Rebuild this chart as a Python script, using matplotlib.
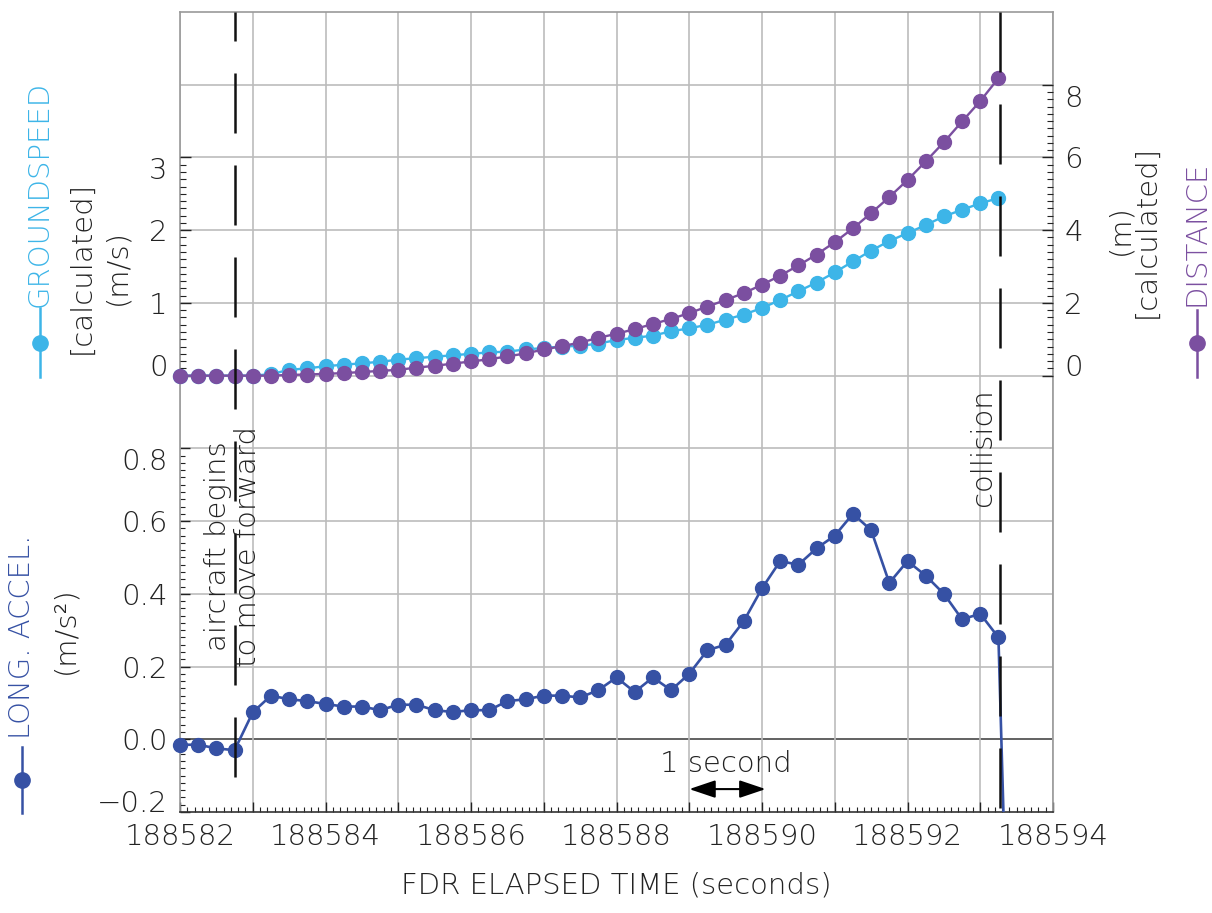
import matplotlib
matplotlib.use('Agg')
import matplotlib.pyplot as plt
import numpy as np
from matplotlib.ticker import FixedLocator, FuncFormatter
from matplotlib.lines import Line2D

# ---------------- data ----------------
time = [188582.00, 188582.25, 188582.50, 188582.75,
        188583.00, 188583.25, 188583.50, 188583.75,
        188584.00, 188584.25, 188584.50, 188584.75,
        188585.00, 188585.25, 188585.50, 188585.75,
        188586.00, 188586.25, 188586.50, 188586.75,
        188587.00, 188587.25, 188587.50, 188587.75,
        188588.00, 188588.25, 188588.50, 188588.75,
        188589.00, 188589.25, 188589.50, 188589.75,
        188590.00, 188590.25, 188590.50, 188590.75,
        188591.00, 188591.25, 188591.50, 188591.75,
        188592.00, 188592.25, 188592.50, 188592.75,
        188593.00, 188593.25]

groundspeed = [0.0, 0.0, 0.0, 0.0,
               0.0, 0.02, 0.08, 0.10,
               0.13, 0.15, 0.17, 0.19,
               0.22, 0.24, 0.26, 0.28,
               0.30, 0.32, 0.33, 0.36,
               0.38, 0.40, 0.41, 0.44,
               0.49, 0.52, 0.55, 0.61,
               0.65, 0.70, 0.77, 0.84,
               0.93, 1.04, 1.16, 1.28,
               1.42, 1.57, 1.72, 1.85,
               1.96, 2.07, 2.19, 2.28,
               2.37, 2.44]

distance = [0.0, 0.0, 0.0, 0.0,
            0.0, 0.0, 0.02, 0.03,
            0.05, 0.07, 0.10, 0.13,
            0.16, 0.22, 0.27, 0.33,
            0.39, 0.45, 0.53, 0.61,
            0.72, 0.81, 0.91, 1.04,
            1.15, 1.28, 1.42, 1.56,
            1.72, 1.90, 2.08, 2.27,
            2.50, 2.75, 3.03, 3.33,
            3.67, 4.05, 4.47, 4.91,
            5.38, 5.89, 6.42, 6.99,
            7.55, 8.18]

accel = [-0.015, -0.015, -0.025, -0.03,
         0.074, 0.12, 0.11, 0.105,
         0.097, 0.09, 0.09, 0.08,
         0.095, 0.095, 0.08, 0.075,
         0.08, 0.08, 0.105, 0.11,
         0.12, 0.12, 0.115, 0.135,
         0.17, 0.13, 0.17, 0.135,
         0.18, 0.245, 0.26, 0.325,
         0.415, 0.49, 0.48, 0.525,
         0.56, 0.62, 0.575, 0.43,
         0.49, 0.45, 0.40, 0.33,
         0.345, 0.28]
# sample after collision (off scale, no marker)
accel_drop_time = [188593.50]
accel_drop_value = [-1.47]

event_times = [188582.75, 188593.27]
event_labels = ["aircraft begins\nto move forward", "collision"]

xticks = [188582, 188583, 188584, 188585, 188586, 188587, 188588,
          188589, 188590, 188591, 188592, 188593, 188594]
accel_ticks = [-0.2, 0.0, 0.2, 0.4, 0.6, 0.8]
gs_ticks = [0, 1, 2, 3]
dist_ticks = [0, 2, 4, 6, 8]

# ---------------- style ----------------
C_GS = '#3db5e8'
C_DIST = '#7b4fa0'
C_ACC = '#3651a4'
C_GRID = '#bcbcbc'
C_TXT = '#222222'
FS = 21
plt.rcParams['font.family'] = ['DejaVu Sans']
plt.rcParams['font.weight'] = 'light'
plt.rcParams['lines.scale_dashes'] = False

W, H = 1212, 913
fig = plt.figure(figsize=(W / 100, H / 100), dpi=100)
L, R, T, B = 180, 1053, 12, 812
ax = fig.add_axes([L / W, 1 - B / H, (R - L) / W, (B - T) / H])

ax.set_xlim(188582, 188594)
ax.set_ylim(-0.2, 2.0)

# grid
ax.xaxis.set_major_locator(FixedLocator(xticks))
ax.xaxis.set_minor_locator(FixedLocator(np.arange(188582, 188594.001, 0.1)))
ax.xaxis.set_major_formatter(FuncFormatter(lambda v, p: f"{int(round(v))}" if int(round(v)) % 2 == 0 else ""))
ax.grid(axis='x', which='major', color=C_GRID, lw=1.2, zorder=0)
for yv in np.arange(-0.2, 2.001, 0.2):
    if abs(yv) < 1e-9:
        ax.axhline(yv, color='#555555', lw=1.3, zorder=0.5)
    elif yv > -0.1 and yv < 1.99:
        ax.axhline(yv, color=C_GRID, lw=1.2, zorder=0.5)

# accel axis (left, lower)
ax.yaxis.tick_left()
ax.xaxis.tick_bottom()
ax.yaxis.set_major_locator(FixedLocator(accel_ticks))
ax.yaxis.set_minor_locator(FixedLocator(np.arange(-0.2, 0.8001, 0.02)))
ax.yaxis.set_major_formatter(FuncFormatter(lambda v, p: f"{v:.1f}".replace('-', '\u2212')))
ax.tick_params(axis='y', which='major', direction='in', length=7, width=1,
               labelsize=FS, pad=9, color=C_TXT, labelcolor=C_TXT)
ax.tick_params(axis='y', which='minor', direction='in', length=3.5, width=0.8, color=C_TXT)
ax.tick_params(axis='x', which='major', direction='in', length=7, width=1,
               labelsize=FS, pad=8, color=C_TXT, labelcolor=C_TXT)
ax.tick_params(axis='x', which='minor', direction='in', length=3.5, width=0.8, color=C_TXT)
for s in ['top', 'left', 'right']:
    ax.spines[s].set_color('#9a9a9a')
    ax.spines[s].set_linewidth(1.2)
ax.spines['bottom'].set_color('#333333')
ax.spines['bottom'].set_linewidth(1.2)

ax.plot(time + accel_drop_time, accel + accel_drop_value, color=C_ACC, lw=1.9, zorder=3)
ax.plot(time, accel, 'o', color=C_ACC, ms=10, zorder=3, clip_on=False)

# groundspeed axis (left, upper)
ax_gs = ax.twinx()
ax_gs.set_ylim(-6, 5)
ax_gs.yaxis.tick_left()
ax_gs.yaxis.set_major_locator(FixedLocator(gs_ticks))
ax_gs.yaxis.set_minor_locator(FixedLocator(np.arange(0, 3.001, 0.1)))
ax_gs.yaxis.set_major_formatter(FuncFormatter(lambda v, p: f"{int(round(v))}"))
ax_gs.tick_params(axis='y', which='major', direction='in', length=8, width=1,
                  labelsize=FS, pad=9, color=C_TXT, labelcolor=C_TXT)
ax_gs.tick_params(axis='y', which='minor', direction='in', length=4, width=0.8, color=C_TXT)
for s in ax_gs.spines.values():
    s.set_visible(False)
ax_gs.plot(time, groundspeed, '-o', color=C_GS, lw=1.7, ms=10, clip_on=False, zorder=3)

# distance axis (right)
ax_d = ax.twinx()
ax_d.set_ylim(-12, 10)
ax_d.yaxis.tick_right()
ax_d.yaxis.set_major_locator(FixedLocator(dist_ticks))
ax_d.yaxis.set_minor_locator(FixedLocator(np.arange(0, 8.001, 0.2)))
ax_d.yaxis.set_major_formatter(FuncFormatter(lambda v, p: f"{int(round(v))}"))
ax_d.tick_params(axis='y', which='major', direction='in', length=8, width=1,
                 labelsize=FS, pad=8, color=C_TXT, labelcolor=C_TXT)
ax_d.tick_params(axis='y', which='minor', direction='in', length=4, width=0.8, color=C_TXT)
for s in ax_d.spines.values():
    s.set_visible(False)
ax_d.plot(time, distance, '-o', color=C_DIST, lw=1.7, ms=10, clip_on=False, zorder=3)

# end labels kept inside their range (top label hangs below, bottom label sits above)
for a in (ax, ax_gs, ax_d):
    ticks = a.yaxis.get_major_ticks()
    ticks[0].label1.set_verticalalignment('baseline')
    ticks[0].label2.set_verticalalignment('baseline')
    ticks[-1].label1.set_verticalalignment('top')
    ticks[-1].label2.set_verticalalignment('top')

# event dashed lines
px2pt = 72 / 100
trans = ax_d.get_xaxis_transform()
ax_d.plot([event_times[0]] * 2, [1.0, (B - 780) / (B - T)], transform=trans,
          color='#111111', lw=1.8, linestyle=(31 * px2pt, (60 * px2pt, 32 * px2pt)), zorder=5)
ax_d.plot([event_times[1]] * 2, [1.0, 0.0], transform=trans,
          color='#111111', lw=1.8, linestyle=(0, (60 * px2pt, 32 * px2pt)), zorder=5)

def figxy(xp, yp):
    return xp / W, 1 - yp / H

fig.text(*figxy(233, 546), event_labels[0], rotation=90, ha='center', va='center',
         multialignment='center', fontsize=FS, color=C_TXT, linespacing=1.1)
fig.text(*figxy(983, 447), event_labels[1], rotation=90, ha='center', va='center',
         fontsize=FS, color=C_TXT)

# 1 second arrow
ax.annotate('', xy=(188589.0, -0.137), xytext=(188590.05, -0.137),
            arrowprops=dict(arrowstyle='<|-|>,head_length=0.8,head_width=0.27', color='black',
                            lw=1.5, mutation_scale=20, shrinkA=0, shrinkB=0))
fig.text(*figxy(726, 764), '1 second', ha='center', va='center', fontsize=FS, color=C_TXT)

# axis titles with legend glyphs
def glyph(x, y1, y2, ym, color):
    fig.add_artist(Line2D([x / W, x / W], [1 - y1 / H, 1 - y2 / H], transform=fig.transFigure,
                          color=color, lw=1.8))
    fig.add_artist(Line2D([x / W], [1 - ym / H], transform=fig.transFigure,
                          color=color, marker='o', ms=11, lw=0))

glyph(40, 308, 377, 343, C_GS)
fig.text(*figxy(40, 194), 'GROUNDSPEED', rotation=90, ha='center', va='center', fontsize=FS, color=C_GS)
fig.text(*figxy(82, 267), '[calculated]', rotation=90, ha='center', va='center', fontsize=FS, color=C_TXT)
fig.text(*figxy(117, 267), '(m/s)', rotation=90, ha='center', va='center', fontsize=FS, color=C_TXT)

glyph(1197, 310, 377, 343, C_DIST)
fig.text(*figxy(1197, 233), 'DISTANCE', rotation=90, ha='center', va='center', fontsize=FS, color=C_DIST)
fig.text(*figxy(1147, 231), '[calculated]', rotation=90, ha='center', va='center', fontsize=FS, color=C_TXT)
fig.text(*figxy(1120, 230), '(m)', rotation=90, ha='center', va='center', fontsize=FS, color=C_TXT)

glyph(22, 747, 813, 780, C_ACC)
fig.text(*figxy(22, 637), 'LONG. ACCEL.', rotation=90, ha='center', va='center', fontsize=FS, color=C_ACC)
fig.text(*figxy(65, 630), '(m/s²)', rotation=90, ha='center', va='center', fontsize=FS, color=C_TXT)

fig.text(*figxy(616, 885), 'FDR ELAPSED TIME (seconds)', ha='center', va='center', fontsize=FS, color=C_TXT)

fig.savefig('out.png', dpi=100)
